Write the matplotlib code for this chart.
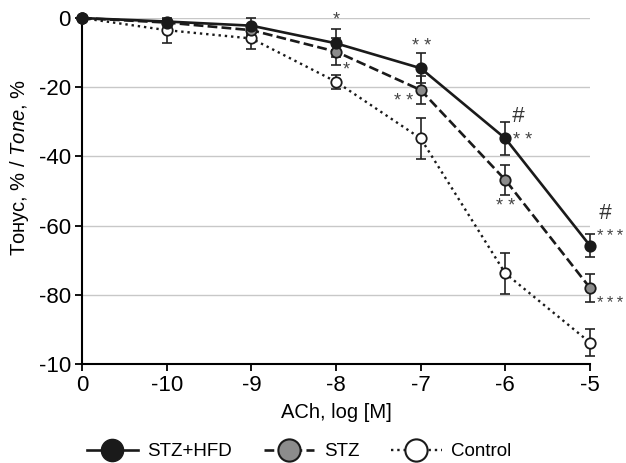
import numpy as np
import matplotlib.pyplot as plt
from matplotlib.lines import Line2D

plt.rcParams['font.family'] = ['Liberation Sans Narrow', 'Liberation Sans', 'DejaVu Sans']
plt.rcParams['mathtext.fontset'] = 'custom'
plt.rcParams['mathtext.it'] = 'Liberation Sans:italic'
plt.rcParams['mathtext.rm'] = 'Liberation Sans'

conc = ["0", "-10", "-9", "-8", "-7", "-6", "-5"]
stz_hfd = [0, -1.0, -2.2, -7.3, -14.5, -34.8, -65.8]
stz_hfd_err = [0, 0.8, 2.2, 4.0, 4.3, 4.7, 3.4]
stz = [0, -1.3, -3.5, -9.7, -20.8, -46.8, -78.0]
stz_err = [0, 0.8, 1.5, 4.0, 4.0, 4.3, 4.0]
control = [0, -3.5, -5.9, -18.4, -34.8, -73.8, -93.8]
control_err = [0, 3.6, 3.0, 2.0, 6.0, 6.0, 4.0]

yticks = [0, -20, -40, -60, -80, -100]
ytick_labels = ["0", "-20", "-40", "-60", "-80", "-10"]

x = np.arange(len(conc))

fig = plt.figure(figsize=(6.26, 4.63), dpi=100)
ax = fig.add_axes([0.131, 0.2138, 0.8115, 0.7472])

series = [
    (control, control_err, ':', 'white'),
    (stz, stz_err, '--', '#8c8c8c'),
    (stz_hfd, stz_hfd_err, '-', '#1a1a1a'),
]
for vals, err, ls, fc in series:
    ax.errorbar(x, vals, yerr=err, fmt='none', ecolor='#222222', elinewidth=1.2,
                capsize=3.5, capthick=1.2, zorder=3, clip_on=False)
    ax.plot(x, vals, linestyle=ls, color='#1a1a1a', lw=1.9 if ls != ':' else 1.7,
            marker='o', markersize=7.5, markerfacecolor=fc, markeredgecolor='#1a1a1a',
            markeredgewidth=1.3, zorder=4, clip_on=False)

ax.set_xlim(0, 6)
ax.set_ylim(-100, 0)
ax.set_xticks(x)
ax.set_xticklabels(conc, fontsize=16)
ax.set_yticks(yticks)
ax.set_yticklabels(ytick_labels, fontsize=16)
ax.yaxis.grid(True, color='#c8c8c8', lw=1)
ax.set_axisbelow(True)
for s in ['top', 'right']:
    ax.spines[s].set_visible(False)
for s in ['left', 'bottom']:
    ax.spines[s].set_linewidth(1.5)
ax.tick_params(axis='both', direction='out', length=5, width=1.3, pad=3)
ax.set_xlabel("ACh, log [M]", fontsize=14.5, labelpad=5)
ax.set_ylabel(r"Тонус, % / $\it{Tone}$, %", fontsize=14.5)
ax.yaxis.set_label_coords(-0.1, 0.569)

# significance marks
star_kw = dict(fontsize=13, color='#444444', ha='center', va='center')
ax.text(3, -0.5, "*", **star_kw)
ax.text(3.12, -15, "*", **star_kw)
ax.text(4.01, -8.3, "* *", **star_kw)
ax.text(3.8, -24, "* *", **star_kw)
ax.text(5.2, -35.3, "* *", **star_kw)
ax.text(5.0, -54.5, "* *", **star_kw)
edge_kw = dict(ha='left', va='center', fontsize=12, color='#444444')
ax.text(6.08, -63.2, "*\u2009*\u2009*", **edge_kw)
ax.text(6.08, -82.5, "*\u2009*\u2009*", **edge_kw)
hash_kw = dict(fontsize=16, style='italic', color='#333333', ha='center', va='center')
ax.text(5.15, -28.5, "#", **hash_kw)
ax.text(6.18, -56.4, "#", **hash_kw)

handles = [
    Line2D([], [], color='#1a1a1a', ls='-', lw=1.9, marker='o', markersize=16,
           markerfacecolor='#1a1a1a', markeredgecolor='#1a1a1a'),
    Line2D([], [], color='#1a1a1a', ls='--', lw=1.9, marker='o', markersize=16,
           markerfacecolor='#8c8c8c', markeredgecolor='#1a1a1a', markeredgewidth=1.5),
    Line2D([], [], color='#1a1a1a', ls=':', lw=1.7, marker='o', markersize=16,
           markerfacecolor='white', markeredgecolor='#1a1a1a', markeredgewidth=1.5),
]
fig.legend(handles, ["STZ+HFD", "STZ", "Control"], loc='center', ncol=3,
           bbox_to_anchor=(0.478, 0.024), frameon=False, fontsize=13.5,
           handlelength=2.7, columnspacing=1.7, handletextpad=0.5)

fig.savefig("out.png", dpi=100)
